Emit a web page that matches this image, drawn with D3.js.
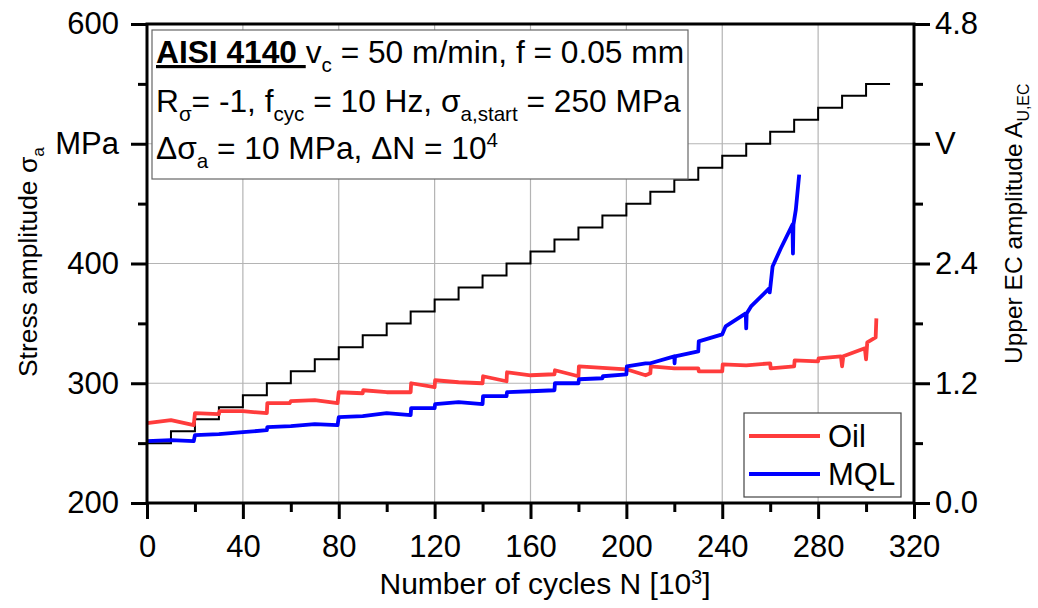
<!DOCTYPE html>
<html lang="en">
<head>
<meta charset="UTF-8">
<title>AISI 4140 stress amplitude and EC amplitude</title>
<script src="https://d3js.org/d3.v7.min.js"></script>
<style>
  body { margin: 0; background: #fff; }
  text { font-family: "Liberation Sans", Arial, sans-serif; fill: #000; }
</style>
</head>
<body>
<svg id="chart" width="1038" height="608"></svg>
<script>
// stress steps: 250 MPa start, +10 MPa every 10^4 cycles
const stepN = [0, 10, 20, 30, 40, 50, 60, 70, 80, 90, 100, 110, 120, 130, 140, 150,
               160, 170, 180, 190, 200, 210, 220, 230, 240, 250, 260, 270, 280, 290, 300, 310];
const stepStress = [250, 260, 270, 280, 290, 300, 310, 320, 330, 340, 350, 360, 370, 380, 390, 400,
                    410, 420, 430, 440, 450, 460, 470, 480, 490, 500, 510, 520, 530, 540, 550, 550];

// upper EC amplitude (V)
const oilN = [0, 10, 19.5, 20, 30, 30.2, 40, 50, 50.2, 59.5, 60, 70, 79.5, 80, 90, 90.2, 100, 110,
              110.2, 120, 120.2, 130, 140, 140.2, 150, 150.2, 160, 170, 170.2, 180, 180.2, 200, 208,
              210, 210.2, 220, 230, 230.2, 240, 240.2, 250, 260, 260.2, 270, 270.2, 280, 280.2, 289.5,
              290, 290.5, 299.5, 300, 300.5, 304, 304.3];
const oilV = [0.80, 0.83, 0.78, 0.90, 0.89, 0.92, 0.92, 0.90, 1.00, 1.00, 1.02, 1.03, 1.00, 1.11, 1.10, 1.13, 1.11, 1.11,
              1.20, 1.16, 1.23, 1.21, 1.20, 1.27, 1.22, 1.31, 1.28, 1.29, 1.33, 1.27, 1.37, 1.34, 1.28,
              1.30, 1.37, 1.35, 1.35, 1.32, 1.32, 1.39, 1.38, 1.40, 1.35, 1.37, 1.43, 1.42, 1.45, 1.47,
              1.37, 1.47, 1.55, 1.44, 1.61, 1.66, 1.85];

const mqlN = [0, 10, 19.5, 20, 30, 40, 50, 50.2, 60, 70, 79.5, 80, 90, 100, 110, 110.2, 120, 120.2, 130,
              140, 140.2, 150, 150.2, 160, 170, 170.2, 180, 180.2, 190, 190.2, 200, 200.2, 208, 210, 220,
              220.1, 220.3, 230, 230.2, 240, 241.4, 249.8, 250, 250.2, 252, 259.6, 259.8, 260, 261, 264.4,
              269.3, 269.5, 269.7, 270.7, 272.1];
const mqlV = [0.62, 0.63, 0.62, 0.68, 0.69, 0.71, 0.73, 0.76, 0.77, 0.79, 0.78, 0.86, 0.87, 0.90, 0.88, 0.95, 0.95, 0.99, 1.01,
              0.99, 1.07, 1.07, 1.11, 1.12, 1.13, 1.20, 1.20, 1.24, 1.25, 1.27, 1.29, 1.37, 1.40, 1.40, 1.47,
              1.40, 1.47, 1.52, 1.62, 1.69, 1.77, 1.90, 1.75, 1.90, 1.97, 2.15, 2.11, 2.15, 2.37, 2.55,
              2.79, 2.50, 2.79, 2.94, 3.29];

const xTicks = [0, 40, 80, 120, 160, 200, 240, 280, 320];
const xMinor = [20, 60, 100, 140, 180, 220, 260, 300];
const yLeftTicks = [200, 300, 400, 500, 600];
const yLeftMinor = [250, 350, 450, 550];
const yRightTicks = [0, 1.2, 2.4, 3.6, 4.8];
const yRightMinor = [0.6, 1.8, 3.0, 4.2];

const L = 147, R = 914, T = 24, B = 503;
const svg = d3.select("#chart");

const x = d3.scaleLinear().domain([0, 320]).range([L, R]);
const yL = d3.scaleLinear().domain([200, 600]).range([B, T]);
const yR = d3.scaleLinear().domain([0, 4.8]).range([B, T]);

// grid
svg.append("g").selectAll("line").data(xTicks.slice(1, -1)).enter().append("line")
  .attr("x1", d => x(d)).attr("x2", d => x(d)).attr("y1", T).attr("y2", B)
  .attr("stroke", "#b4b4b4").attr("stroke-width", 1.2);
svg.append("g").selectAll("line").data(yLeftTicks.slice(1, -1)).enter().append("line")
  .attr("x1", L).attr("x2", R).attr("y1", d => yL(d)).attr("y2", d => yL(d))
  .attr("stroke", "#b4b4b4").attr("stroke-width", 1.2);

// stress staircase
svg.append("path")
  .datum(stepN.map((n, i) => [n, stepStress[i]]))
  .attr("fill", "none").attr("stroke", "#000").attr("stroke-width", 2)
  .attr("d", d3.line().x(d => x(d[0])).y(d => yL(d[1])).curve(d3.curveStepAfter));

const vLine = d3.line().x(d => x(d[0])).y(d => yR(d[1]));
svg.append("path")
  .datum(oilN.map((n, i) => [n, oilV[i]]))
  .attr("fill", "none").attr("stroke", "#ff3c3c").attr("stroke-width", 3.8)
  .attr("stroke-linejoin", "round").attr("d", vLine);
svg.append("path")
  .datum(mqlN.map((n, i) => [n, mqlV[i]]))
  .attr("fill", "none").attr("stroke", "#0000ff").attr("stroke-width", 3.8)
  .attr("stroke-linejoin", "round").attr("d", vLine);

// rich text helper: parts = [[string, kind]]
function rich(g, px, py, size, parts, supRise = 0.38) {
  const t = g.append("text").attr("x", px).attr("y", py).attr("font-size", size);
  let shift = 0;
  parts.forEach(([s, k]) => {
    const target = k === "sub" ? size * 0.28 : k === "sup" ? -size * supRise : 0;
    const ts = t.append("tspan").attr("dy", target - shift).text(s);
    shift = target;
    if (k === "sub" || k === "sup") ts.attr("font-size", size * 0.65);
    if (k === "b") ts.attr("font-weight", "bold").attr("text-decoration", "underline");
  });
  return t;
}

// info box
const box = svg.append("g");
box.append("rect").attr("x", 152).attr("y", 30).attr("width", 536).attr("height", 149)
  .attr("fill", "#fff").attr("stroke", "#666").attr("stroke-width", 1.2);
rich(box, 156, 63, 31.7, [["AISI 4140 ", "b"], ["v", "n"], ["c", "sub"], [" = 50 m/min, f = 0.05 mm", "n"]]);
rich(box, 156, 112, 31.7, [["R", "n"], ["σ", "sub"], ["= -1, f", "n"], ["cyc", "sub"],
  [" = 10 Hz, σ", "n"], ["a,start", "sub"], [" = 250 MPa", "n"]]);
rich(box, 156, 159, 31.7, [["Δσ", "n"], ["a", "sub"], [" = 10 MPa, ΔN = 10", "n"], ["4", "sup"]]);

// axes
function styleAxis(g) {
  g.select(".domain").remove();
  g.selectAll(".tick line").attr("stroke", "#000").attr("stroke-width", 3);
  g.selectAll(".tick text").attr("font-size", 31).attr("font-family", "Liberation Sans, Arial, sans-serif");
}
svg.append("g").attr("transform", `translate(0,${B})`)
  .call(d3.axisBottom(x).tickValues(xTicks).tickSize(16).tickPadding(16)).call(styleAxis);
svg.append("g").attr("transform", `translate(0,${B})`)
  .call(d3.axisBottom(x).tickValues(xMinor).tickSize(9).tickFormat("")).call(styleAxis);
svg.append("g").attr("transform", `translate(${L},0)`)
  .call(d3.axisLeft(yL).tickValues(yLeftTicks).tickSize(16).tickPadding(12)
    .tickFormat(d => d === 500 ? "MPa" : d)).call(styleAxis);
svg.append("g").attr("transform", `translate(${L},0)`)
  .call(d3.axisLeft(yL).tickValues(yLeftMinor).tickSize(9).tickFormat("")).call(styleAxis);
svg.append("g").attr("transform", `translate(${R},0)`)
  .call(d3.axisRight(yR).tickValues(yRightTicks).tickSize(16).tickPadding(5)
    .tickFormat(d => d === 3.6 ? "V" : d3.format(".1f")(d))).call(styleAxis);
svg.append("g").attr("transform", `translate(${R},0)`)
  .call(d3.axisRight(yR).tickValues(yRightMinor).tickSize(9).tickFormat("")).call(styleAxis);

// frame
svg.append("rect").attr("x", L).attr("y", T).attr("width", R - L).attr("height", B - T)
  .attr("fill", "none").attr("stroke", "#000").attr("stroke-width", 3);

// axis titles
rich(svg, 545, 594, 30, [["Number of cycles N [10", "n"], ["3", "sup"], ["]", "n"]], 0.32)
  .attr("text-anchor", "middle");
rich(svg, 0, 0, 26.4, [["Stress amplitude σ", "n"], ["a", "sub"]])
  .attr("transform", "translate(37,377) rotate(-90)");
rich(svg, 0, 0, 24.5, [["Upper EC amplitude A", "n"], ["U,EC", "sub"]])
  .attr("transform", "translate(1022,364) rotate(-90)");

// legend
const leg = svg.append("g");
leg.append("rect").attr("x", 744).attr("y", 413).attr("width", 157).attr("height", 84)
  .attr("fill", "#fff").attr("stroke", "#444").attr("stroke-width", 1.2);
[["Oil", "#ff3c3c", 436], ["MQL", "#0000ff", 474]].forEach(([name, col, ly]) => {
  leg.append("line").attr("x1", 749).attr("x2", 820).attr("y1", ly).attr("y2", ly)
    .attr("stroke", col).attr("stroke-width", 3.8);
  leg.append("text").attr("x", 828).attr("y", ly + 11).attr("font-size", 31).text(name);
});
</script>
</body>
</html>
